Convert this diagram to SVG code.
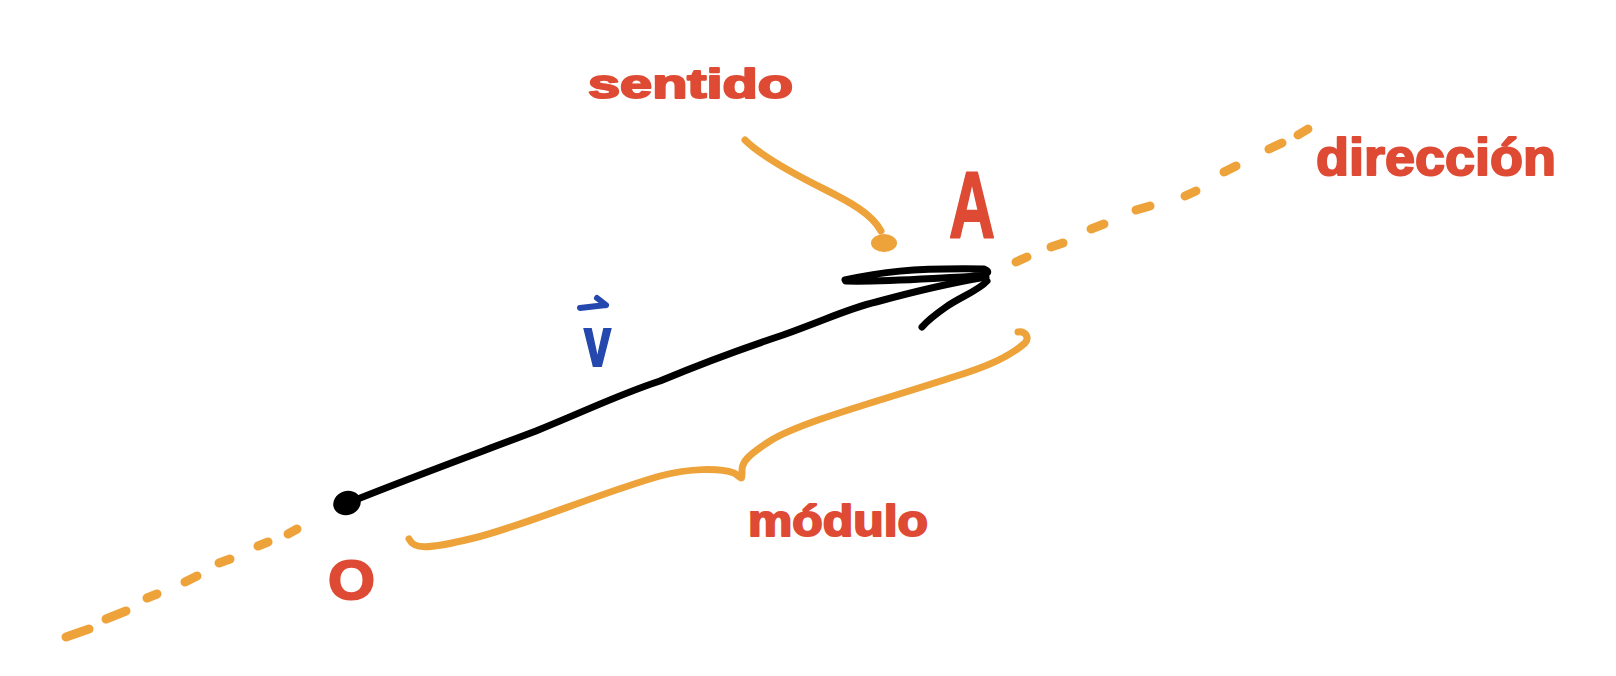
<svg xmlns="http://www.w3.org/2000/svg" width="1616" height="676" viewBox="0 0 1616 676">
  <style>
    .lbl { font-family: "Liberation Sans", Arial, sans-serif; font-weight: bold; fill: #de4a33; stroke: #de4a33; stroke-width: 2; stroke-linejoin: round; }
    .dash { stroke: #eda23a; stroke-width: 9; stroke-linecap: round; fill: none; }
    .orange { stroke: #eda23a; stroke-width: 7; stroke-linecap: round; stroke-linejoin: round; fill: none; }
    .ink { stroke: #000; stroke-width: 7; stroke-linecap: round; stroke-linejoin: round; fill: none; }
  </style>
  <rect width="1616" height="676" fill="#fff"/>

  <g id="connectors">
    <g id="direction-line">
      <line class="dash" x1="66" y1="637" x2="89" y2="629"/>
      <line class="dash" x1="106" y1="619" x2="126" y2="611"/>
      <line class="dash" x1="147" y1="598" x2="157" y2="594"/>
      <line class="dash" x1="185" y1="582" x2="197" y2="576"/>
      <line class="dash" x1="219" y1="563" x2="230" y2="559"/>
      <line class="dash" x1="258" y1="546" x2="268" y2="542"/>
      <line class="dash" x1="288" y1="534" x2="297" y2="529"/>
      <line class="dash" x1="1016" y1="262" x2="1027" y2="257"/>
      <line class="dash" x1="1051" y1="247" x2="1063" y2="243"/>
      <line class="dash" x1="1091" y1="229" x2="1104" y2="224"/>
      <line class="dash" x1="1136" y1="210" x2="1150" y2="206"/>
      <line class="dash" x1="1185" y1="196" x2="1196" y2="191"/>
      <line class="dash" x1="1224" y1="172" x2="1236" y2="166"/>
      <line class="dash" x1="1269" y1="149" x2="1282" y2="143"/>
      <line class="dash" x1="1298" y1="135" x2="1308" y2="129"/>
    </g>
    <g id="vector-OA">
      <ellipse cx="347" cy="503" rx="14" ry="12" fill="#000" transform="rotate(-20 347 503)"/>
      <path class="ink" d="M 350 502 C 420 474 470 456 536 431 C 590 409 620 394 660 381 C 710 360 750 346 783 335 C 830 318 850 308 876 302 C 920 290 950 283 986 277"/>
      <path class="ink" d="M 845 280 C 880 272 910 268 984 269 C 992 272 988 276 962 277 C 920 279 880 282 846 281"/>
      <path class="ink" d="M 987 281 C 978 291 960 297 946 307 C 936 314 928 320 922 327"/>
    </g>
    <g id="sentido-pointer">
      <path class="orange" d="M 745 140 C 760 155 790 172 824 189 C 850 202 872 214 881 231"/>
      <ellipse cx="884" cy="243" rx="13" ry="9" fill="#eda23a"/>
    </g>
    <g id="modulo-brace">
      <path class="orange" d="M 409 539 C 414 549 425 550 474 538 C 520 527 600 493 660 476 C 690 468 720 468 734 473 C 742 478 742 482 742 470 C 742 462 748 455 770 441 C 800 422 880 401 950 378 C 990 366 1010 356 1025 343 C 1030 337 1025 331 1018 332"/>
    </g>
  </g>

  <g id="node-sentido">
    <text class="lbl" x="588" y="98" font-size="40" textLength="205" lengthAdjust="spacingAndGlyphs">sentido</text>
  </g>
  <g id="node-direccion">
    <text class="lbl" x="1316" y="175" font-size="52" textLength="240" lengthAdjust="spacingAndGlyphs">dirección</text>
  </g>
  <g id="node-modulo">
    <text class="lbl" x="748" y="536" font-size="44" textLength="180" lengthAdjust="spacingAndGlyphs">módulo</text>
  </g>
  <g id="node-A">
    <text class="lbl" x="949" y="238" font-size="94" textLength="46" lengthAdjust="spacingAndGlyphs">A</text>
  </g>
  <g id="node-O">
    <text class="lbl" x="328" y="599" font-size="55" textLength="47" lengthAdjust="spacingAndGlyphs">O</text>
  </g>
  <g id="node-v">
    <text x="584" y="366" font-family="Liberation Sans, Arial, sans-serif" font-weight="bold" font-size="70" fill="#2448ad" stroke="#2448ad" stroke-width="2" textLength="27" lengthAdjust="spacingAndGlyphs">v</text>
    <path d="M 580 308 L 606 305 M 597 298 L 606 305" stroke="#2448ad" stroke-width="6" stroke-linecap="round" fill="none"/>
  </g>
</svg>
